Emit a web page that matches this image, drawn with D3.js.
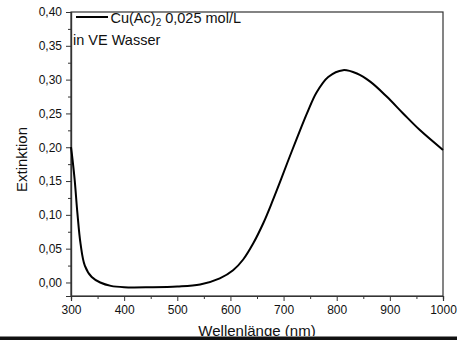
<!DOCTYPE html>
<html><head><meta charset="utf-8">
<script src="https://cdn.jsdelivr.net/npm/d3@7"></script>
<style>
html,body{margin:0;padding:0;background:#fff;}
svg{display:block;font-family:"Liberation Sans",Arial,sans-serif;}
</style></head>
<body>
<svg id="c" width="457" height="340"></svg>
<script>
const wavelength = [300,303,307,312,318,326,339,355,375,400,450,500,543,580,605,624,643,662,678,695,710,725,744,762,784,812,838,863,894,925,957,1000];
const extinction = [0.200,0.181,0.151,0.103,0.057,0.025,0.008,0.000,-0.005,-0.007,-0.007,-0.006,-0.003,0.006,0.018,0.034,0.058,0.088,0.118,0.152,0.183,0.213,0.250,0.281,0.304,0.314,0.309,0.297,0.275,0.250,0.225,0.196];
const xTicks = [300,400,500,600,700,800,900,1000];
const xMinor = [350,450,550,650,750,850,950];
const yTicks = [0,0.05,0.10,0.15,0.20,0.25,0.30,0.35,0.40];
const yMinor = [0.025,0.075,0.125,0.175,0.225,0.275,0.325,0.375];
const seriesLabel = "Cu(Ac)";
const seriesSub = "2";
const seriesRest = " 0,025 mol/L";
const legendNote = "in VE Wasser";
const xTitle = "Wellenlänge (nm)";
const yTitle = "Extinktion";

const svg = d3.select("#c");
const L=71, R=443, T=12, B=296;
const x = d3.scaleLinear().domain([300,1000]).range([L,R]);
const y = d3.scaleLinear().domain([-0.02,0.40]).range([B,T]);
const fmt = d => d3.format(".2f")(d).replace(".", ",");

// frame
svg.append("rect").attr("x",L).attr("y",T).attr("width",R-L).attr("height",B-T)
  .attr("fill","none").attr("stroke","#333").attr("stroke-width",1.2);

// x axis
svg.append("g").attr("transform",`translate(0,${B})`)
  .call(d3.axisBottom(x).tickValues(xTicks).tickSize(5).tickPadding(4).tickFormat(d3.format("d")));
svg.append("g").attr("transform",`translate(0,${B})`)
  .call(d3.axisBottom(x).tickValues(xMinor).tickSize(3).tickFormat(""));
// y axis
svg.append("g").attr("transform",`translate(${L},0)`)
  .call(d3.axisLeft(y).tickValues(yTicks).tickSize(5).tickPadding(4).tickFormat(fmt));
svg.append("g").attr("transform",`translate(${L},0)`)
  .call(d3.axisLeft(y).tickValues(yMinor).tickSize(3).tickFormat(""));
svg.selectAll(".domain").attr("stroke","#333").attr("stroke-width",1.2);
svg.selectAll(".tick line").attr("stroke","#333").attr("stroke-width",1);
svg.selectAll(".tick text").attr("font-size","12px").attr("fill","#111")
  .attr("font-family","'Liberation Sans',Arial,sans-serif");

// curve
const line = d3.line().x((d,i)=>x(wavelength[i])).y(d=>y(d)).curve(d3.curveCatmullRom.alpha(0.5));
svg.append("path").datum(extinction).attr("d",line)
  .attr("fill","none").attr("stroke","#000").attr("stroke-width",2);

// legend
svg.append("line").attr("x1",76).attr("x2",108).attr("y1",17).attr("y2",17)
  .attr("stroke","#000").attr("stroke-width",2);
const lt = svg.append("text").attr("x",110.5).attr("y",23).attr("font-size","14.5px").attr("fill","#111");
lt.append("tspan").text(seriesLabel);
lt.append("tspan").attr("font-size","10px").attr("dy",3).text(seriesSub);
lt.append("tspan").attr("dy",-3).text(seriesRest);
svg.append("text").attr("x",73).attr("y",45).attr("font-size","14.5px").attr("fill","#111").text(legendNote);

// axis titles
svg.append("text").attr("transform","translate(26.5,159.5) rotate(-90)").attr("text-anchor","middle")
  .attr("font-size","15px").attr("fill","#111").text(yTitle);
svg.append("text").attr("x",257).attr("y",335.5).attr("text-anchor","middle")
  .attr("font-size","15px").attr("fill","#111").text(xTitle);

// bottom bar
svg.append("line").attr("x1",0).attr("x2",457).attr("y1",336.5).attr("y2",336.5).attr("stroke","#888").attr("stroke-width",1);
svg.append("rect").attr("x",0).attr("y",337).attr("width",457).attr("height",3).attr("fill","#111");
</script>
</body></html>
